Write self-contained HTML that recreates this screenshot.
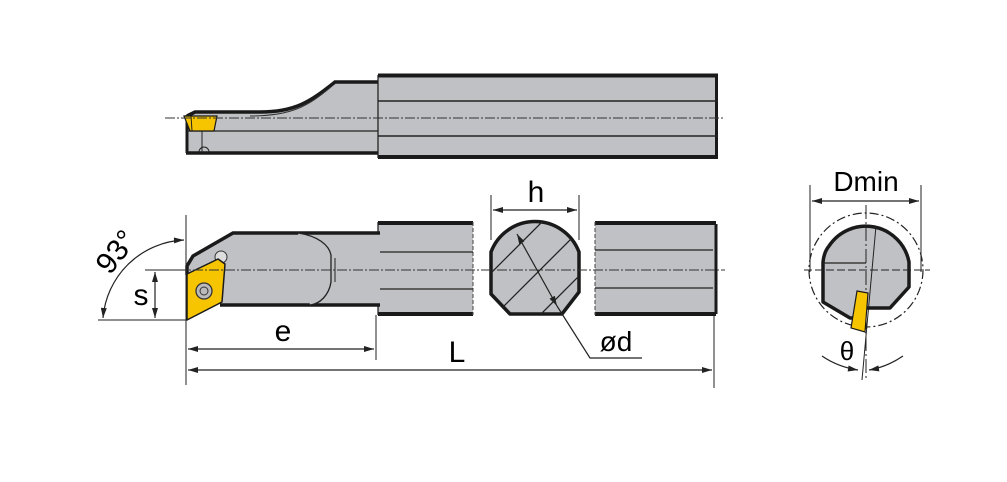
<!DOCTYPE html>
<html><head><meta charset="utf-8"><style>html,body{margin:0;padding:0;background:#fff}svg{display:block}</style></head>
<body>
<svg width="1007" height="482" viewBox="0 0 1007 482" xmlns="http://www.w3.org/2000/svg" font-family="Liberation Sans, sans-serif">
<defs>
<marker id="a" viewBox="0 0 10 6" refX="10" refY="3" markerWidth="15" markerHeight="6" markerUnits="userSpaceOnUse" orient="auto-start-reverse"><path d="M0,0L10,3L0,6z" fill="#222"/></marker>
<clipPath id="sec"><path d="M491,252 A47,47 0 0 1 579,252 L579,292 L562,314 L510,314 L491,294 Z"/></clipPath>
</defs>
<!-- TOP VIEW -->
<rect x="378" y="75" width="340" height="83" fill="#c0c1c4"/>
<line x1="378" y1="75.5" x2="718" y2="75.5" stroke="#1a1a1a" stroke-width="4"/>
<line x1="378" y1="157" x2="718" y2="157" stroke="#1a1a1a" stroke-width="4"/>
<line x1="716.5" y1="75" x2="716.5" y2="158" stroke="#1a1a1a" stroke-width="3"/>
<line x1="378" y1="101" x2="718" y2="101" stroke="#222" stroke-width="1.5"/>
<line x1="378" y1="136" x2="718" y2="136" stroke="#222" stroke-width="1.5"/>
<path d="M378,82 L335,82 C310,102 295,112 260,112 L195,112 L187,116 L186,153 L378,153 Z" fill="#c0c1c4"/>
<path d="M378,82 L335,82 C310,102 295,112 260,112 L195,112 L187,116" fill="none" stroke="#1a1a1a" stroke-width="3.5"/>
<path d="M331,87 C308,106 292,116 250,116" fill="none" stroke="#333" stroke-width="1"/>
<line x1="186" y1="153" x2="378" y2="153" stroke="#1a1a1a" stroke-width="3.5"/>
<line x1="187" y1="115" x2="187" y2="153" stroke="#1a1a1a" stroke-width="3"/>
<line x1="187" y1="131" x2="378" y2="131" stroke="#222" stroke-width="1.3"/>
<line x1="378" y1="75" x2="378" y2="158" stroke="#222" stroke-width="1.3"/>
<polygon points="184,116 217,116 214,131 190,131" fill="#f7c400" stroke="#1a1a1a" stroke-width="1.2"/>
<line x1="191" y1="116" x2="192" y2="131" stroke="#222" stroke-width="1"/>
<line x1="202" y1="131" x2="202" y2="153" stroke="#222" stroke-width="1"/>
<path d="M199,152 A5,5 0 0 1 209,152" fill="none" stroke="#222" stroke-width="1"/>
<line x1="165" y1="118" x2="725" y2="118" stroke="#333" stroke-width="1" stroke-dasharray="10,2,2,2"/>

<!-- SIDE VIEW body -->
<rect x="378" y="222" width="95" height="93" fill="#c0c1c4"/>
<line x1="378" y1="223" x2="473" y2="223" stroke="#1a1a1a" stroke-width="4"/>
<line x1="378" y1="314" x2="473" y2="314" stroke="#1a1a1a" stroke-width="4"/>
<line x1="378" y1="222" x2="378" y2="315" stroke="#222" stroke-width="1.3"/>
<line x1="473" y1="222" x2="473" y2="315" stroke="#444" stroke-width="1" stroke-dasharray="4,2"/>
<line x1="378" y1="252" x2="473" y2="252" stroke="#222" stroke-width="1.3"/>
<line x1="378" y1="289" x2="473" y2="289" stroke="#222" stroke-width="1.3"/>
<rect x="331" y="258" width="47" height="24" fill="#c0c1c4" stroke="#222" stroke-width="1.2"/>
<path d="M233,233 L380,233 L380,305 L220,305 L220,300 L187,300 L187,265 L193,255 Z" fill="#c0c1c4"/>
<path d="M380,233 L233,233 L193,256 L187,266 L187,275" fill="none" stroke="#1a1a1a" stroke-width="3.5"/>
<line x1="220" y1="305" x2="380" y2="305" stroke="#1a1a1a" stroke-width="3.5"/>
<path d="M298,233 C318,236 329,245 331,255 L331,282 C329,295 320,304 310,305" fill="#c0c1c4" stroke="#222" stroke-width="1.3"/>
<line x1="335" y1="258" x2="335" y2="282" stroke="#222" stroke-width="1"/>
<circle cx="221" cy="257" r="6" fill="#ddd" stroke="#333" stroke-width="1"/>
<polygon points="187,274 218,259 225,264 222,302 187,320" fill="#f7c400" stroke="#1a1a1a" stroke-width="1.5" stroke-linejoin="round"/>
<circle cx="204" cy="291" r="8" fill="#bbb" stroke="#333" stroke-width="1.3"/>
<circle cx="204" cy="291" r="4" fill="none" stroke="#333" stroke-width="1"/>

<!-- section -->
<path d="M491,252 A47,47 0 0 1 579,252 L579,292 L562,314 L510,314 L491,294 Z" fill="#c0c1c4" stroke="#1a1a1a" stroke-width="3.5" stroke-linejoin="round"/>
<g clip-path="url(#sec)" stroke="#222" stroke-width="1.3">
<line x1="470" y1="294" x2="560" y2="204"/><line x1="480" y1="330" x2="590" y2="220"/><line x1="510" y1="345" x2="610" y2="245"/>
</g>
<line x1="517" y1="234" x2="557" y2="306" stroke="#222" stroke-width="1.2" marker-start="url(#a)" marker-end="url(#a)"/>
<polyline points="557,306 590,358 642,358" fill="none" stroke="#222" stroke-width="1.2"/>
<text x="616" y="351" font-size="28" text-anchor="middle">ød</text>

<!-- right segment -->
<rect x="595" y="222" width="121" height="93" fill="#c0c1c4"/>
<line x1="595" y1="223" x2="716" y2="223" stroke="#1a1a1a" stroke-width="4"/>
<line x1="595" y1="314" x2="716" y2="314" stroke="#1a1a1a" stroke-width="4"/>
<line x1="716" y1="224" x2="716" y2="314" stroke="#1a1a1a" stroke-width="3"/>
<line x1="595" y1="222" x2="595" y2="315" stroke="#444" stroke-width="1" stroke-dasharray="4,2"/>
<line x1="595" y1="250" x2="713" y2="250" stroke="#222" stroke-width="1.3"/>
<line x1="595" y1="288" x2="713" y2="288" stroke="#222" stroke-width="1.3"/>

<line x1="145" y1="270" x2="725" y2="270" stroke="#333" stroke-width="1" stroke-dasharray="10,2,2,2"/>

<!-- h dim -->
<line x1="491" y1="195" x2="491" y2="240" stroke="#222" stroke-width="1"/>
<line x1="579" y1="195" x2="579" y2="240" stroke="#222" stroke-width="1"/>
<line x1="493" y1="210" x2="577" y2="210" stroke="#222" stroke-width="1.2" marker-start="url(#a)" marker-end="url(#a)"/>
<text x="536" y="202" font-size="30" text-anchor="middle">h</text>

<!-- left dims -->
<line x1="186" y1="215" x2="186" y2="385" stroke="#222" stroke-width="1"/>
<line x1="376" y1="315" x2="376" y2="360" stroke="#222" stroke-width="1"/>
<line x1="714" y1="315" x2="714" y2="388" stroke="#222" stroke-width="1"/>
<line x1="188" y1="349" x2="374" y2="349" stroke="#222" stroke-width="1.2" marker-start="url(#a)" marker-end="url(#a)"/>
<text x="283" y="341" font-size="30" text-anchor="middle">e</text>
<line x1="188" y1="370" x2="712" y2="370" stroke="#222" stroke-width="1.2" marker-start="url(#a)" marker-end="url(#a)"/>
<text x="457" y="362" font-size="30" text-anchor="middle">L</text>
<line x1="145" y1="270" x2="185" y2="270" stroke="#222" stroke-width="1"/>
<line x1="98" y1="320" x2="186" y2="320" stroke="#222" stroke-width="1"/>
<line x1="155" y1="272" x2="155" y2="318" stroke="#222" stroke-width="1.2" marker-start="url(#a)" marker-end="url(#a)"/>
<text x="141" y="305" font-size="30" text-anchor="middle">s</text>
<path d="M184,240 A85,85 0 0 0 103,318" fill="none" stroke="#222" stroke-width="1.2" marker-start="url(#a)" marker-end="url(#a)"/>
<text x="0" y="0" font-size="30" text-anchor="middle" transform="translate(124,258) rotate(-52)">93°</text>

<!-- END VIEW -->
<circle cx="866" cy="270" r="57" fill="none" stroke="#222" stroke-width="1.2" stroke-dasharray="9,3,2,3"/>
<path d="M823,302 L823,262 Q824,252 829,246 A44,44 0 0 1 909,262 L909,287 L890,308 L866,308 L862,318 L850,318 Z" fill="#c0c1c4" stroke="#1a1a1a" stroke-width="3.5" stroke-linejoin="round"/>
<line x1="823" y1="263" x2="866" y2="263" stroke="#222" stroke-width="1.2"/>
<line x1="804" y1="270" x2="930" y2="270" stroke="#222" stroke-width="1" stroke-dasharray="8,3"/>
<line x1="866" y1="205" x2="866" y2="380" stroke="#222" stroke-width="1" stroke-dasharray="14,3,2,3"/>
<line x1="876" y1="226" x2="862" y2="380" stroke="#222" stroke-width="1"/>
<polygon points="857,291 868,293 865,332 851,328" fill="#f7c400" stroke="#1a1a1a" stroke-width="1.2"/>
<line x1="810" y1="185" x2="810" y2="272" stroke="#222" stroke-width="1"/>
<line x1="921" y1="185" x2="921" y2="272" stroke="#222" stroke-width="1"/>
<line x1="812" y1="201" x2="919" y2="201" stroke="#222" stroke-width="1.2" marker-start="url(#a)" marker-end="url(#a)"/>
<text x="866" y="191" font-size="28" text-anchor="middle">Dmin</text>
<path d="M822,356 Q838,367 858,370" fill="none" stroke="#222" stroke-width="1.2" marker-end="url(#a)"/>
<path d="M903,356 Q887,367 869,370" fill="none" stroke="#222" stroke-width="1.2" marker-end="url(#a)"/>
<text x="847" y="360" font-size="26" text-anchor="middle">θ</text>
</svg>
</body></html>
